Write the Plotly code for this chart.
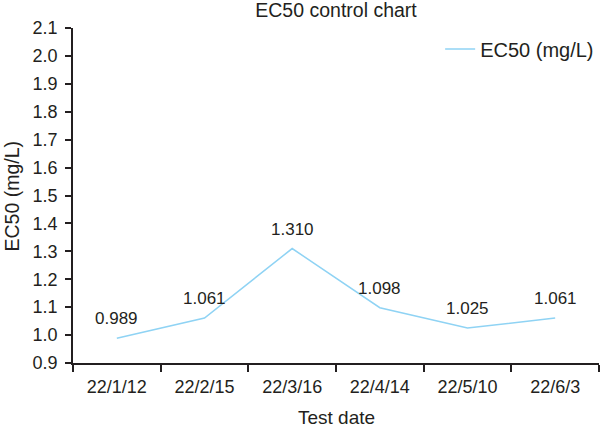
import plotly.graph_objects as go

dates = ["22/1/12", "22/2/15", "22/3/16", "22/4/14", "22/5/10", "22/6/3"]
ec50 = [0.989, 1.061, 1.310, 1.098, 1.025, 1.061]
y_ticks = [0.9, 1.0, 1.1, 1.2, 1.3, 1.4, 1.5, 1.6, 1.7, 1.8, 1.9, 2.0, 2.1]

TXT = "#231f20"
FONT = "Liberation Sans, Arial, sans-serif"

fig = go.Figure()
fig.add_trace(go.Scatter(
    x=dates, y=ec50, mode="lines", name="EC50 (mg/L)",
    line=dict(color="#8fd3f4", width=1.5),
))

for d, v in zip(dates, ec50):
    fig.add_annotation(x=d, y=v, text=f"{v:.3f}", showarrow=False,
                       yanchor="bottom", yshift=8,
                       font=dict(size=17, color=TXT, family=FONT))

# axis titles as annotations for exact placement
fig.add_annotation(xref="paper", yref="paper", x=0.5, y=-0.164, text="Test date",
                   showarrow=False, xanchor="center", yanchor="middle",
                   font=dict(size=19, color=TXT, family=FONT))
fig.add_annotation(xref="paper", yref="paper", x=-0.116, y=0.5, text="EC50 (mg/L)",
                   showarrow=False, xanchor="center", yanchor="middle", textangle=-90,
                   font=dict(size=19.5, color=TXT, family=FONT))

fig.update_layout(
    width=600, height=427,
    margin=dict(l=73, r=1, t=28, b=64),
    paper_bgcolor="white", plot_bgcolor="white",
    font=dict(family=FONT, color=TXT, size=18),
    title=dict(text="EC50 control chart", x=0.5, xref="paper", xanchor="center",
               y=0.977, yanchor="middle", font=dict(size=19.5, color=TXT)),
    showlegend=True,
    legend=dict(x=0.698, xanchor="left", y=0.937, yanchor="middle",
                bgcolor="rgba(0,0,0,0)", font=dict(size=20, color=TXT)),
    xaxis=dict(
        type="category", range=[-0.5, 5.5], tickson="boundaries", automargin=False,
        showline=True, linecolor=TXT, linewidth=1.5,
        ticks="outside", ticklen=7, tickcolor=TXT, tickwidth=1.5,
        showgrid=False, zeroline=False, ticklabelstandoff=7,
        tickfont=dict(size=18, color=TXT),
    ),
    yaxis=dict(
        range=[0.9, 2.1], tickvals=y_ticks, ticktext=[f"{t:.1f}" for t in y_ticks],
        automargin=False,
        showline=True, linecolor=TXT, linewidth=1.5,
        ticks="outside", ticklen=6, tickcolor=TXT, tickwidth=1.5,
        showgrid=False, zeroline=False, ticklabelstandoff=4,
        tickfont=dict(size=18, color=TXT),
    ),
)

fig.write_html("out.html", config={"displayModeBar": False},
               post_script="document.body.style.margin='0';")
